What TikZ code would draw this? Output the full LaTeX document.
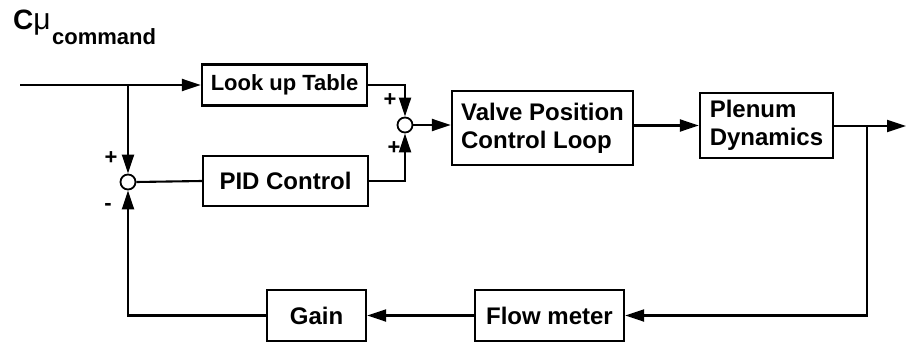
\documentclass[tikz,border=0pt]{standalone}
\usepackage{fontspec}
\setmainfont{Liberation Sans}
\usetikzlibrary{arrows.meta,calc}
\begin{document}
\begin{tikzpicture}[x=1pt,y=-1pt,
  blk/.style={draw,line width=2.3pt,inner sep=0pt,font=\fontsize{24}{28}\selectfont\bfseries},
  sumc/.style={draw,circle,line width=1.8pt,minimum size=15pt,inner sep=0pt},
  ln/.style={line width=2.1pt},
  arr/.style={ln,-{Triangle[length=19pt,width=12pt]}},
  sgn/.style={inner sep=0pt,font=\fontsize{22}{22}\selectfont\bfseries}]
\useasboundingbox (0,0) rectangle (906,345);
% title
\node[anchor=base west,inner sep=0pt] (cmu) at (13,30) {\fontsize{28}{28}\selectfont\bfseries C{\mdseries\fontsize{30}{30}\selectfont μ}};
\node[anchor=base west,inner sep=0pt,font=\fontsize{22}{22}\selectfont\bfseries] (sub) at (52,45) {command};
% blocks
\node[blk,minimum width=165pt,minimum height=41pt,font=\fontsize{22}{26}\selectfont\bfseries] (lut) at (284.5,85) {Look up Table};
\node[blk,minimum width=165pt,minimum height=50pt] (pid) at (285.5,181) {PID Control};
\node[blk,minimum width=181pt,minimum height=74pt,align=left] (valve) at (542.5,128) {Valve Position\\Control Loop};
\node[blk,minimum width=133pt,minimum height=65pt,align=left] (plenum) at (766.5,125.5) {Plenum\\Dynamics};
\node[blk,minimum width=149pt,minimum height=51pt] (flow) at (549.5,315.5) {Flow meter};
\node[blk,minimum width=99pt,minimum height=51pt] (gain) at (316.5,315.5) {Gain};
\node[sumc] (s1) at (405,125) {};
\node[sumc] (s2) at (128,182) {};
\coordinate (in) at (20,85);
\coordinate (br2) at (128,85);
\coordinate (out) at (906,126);
\coordinate (br) at (867,126);
% connectors
\draw[arr] (in) -- (lut.west);
\draw[arr] (br2) -- (s2.north);
\draw[arr] (lut.east) -| (s1.north);
\draw[ln] (s2.east) -- (pid.west);
\draw[arr] (pid.east) -| (s1.south);
\draw[arr] (s1.east) -- (s1.east -| valve.west);
\draw[arr] (valve.east |- plenum.west) -- (plenum.west);
\draw[arr] (plenum.east |- out) -- (out);
\draw[arr] (br) |- (flow.east);
\draw[arr] (flow.west) -- (gain.east);
\draw[arr] (gain.west) -| (s2.south);
% signs
\node[sgn] (p1) at (111,158) {+};
\node[sgn] (m1) at (108,207) {-};
\node[sgn] (p2) at (390,100) {+};
\node[sgn] (p3) at (394,148) {+};
\end{tikzpicture}
\end{document}
